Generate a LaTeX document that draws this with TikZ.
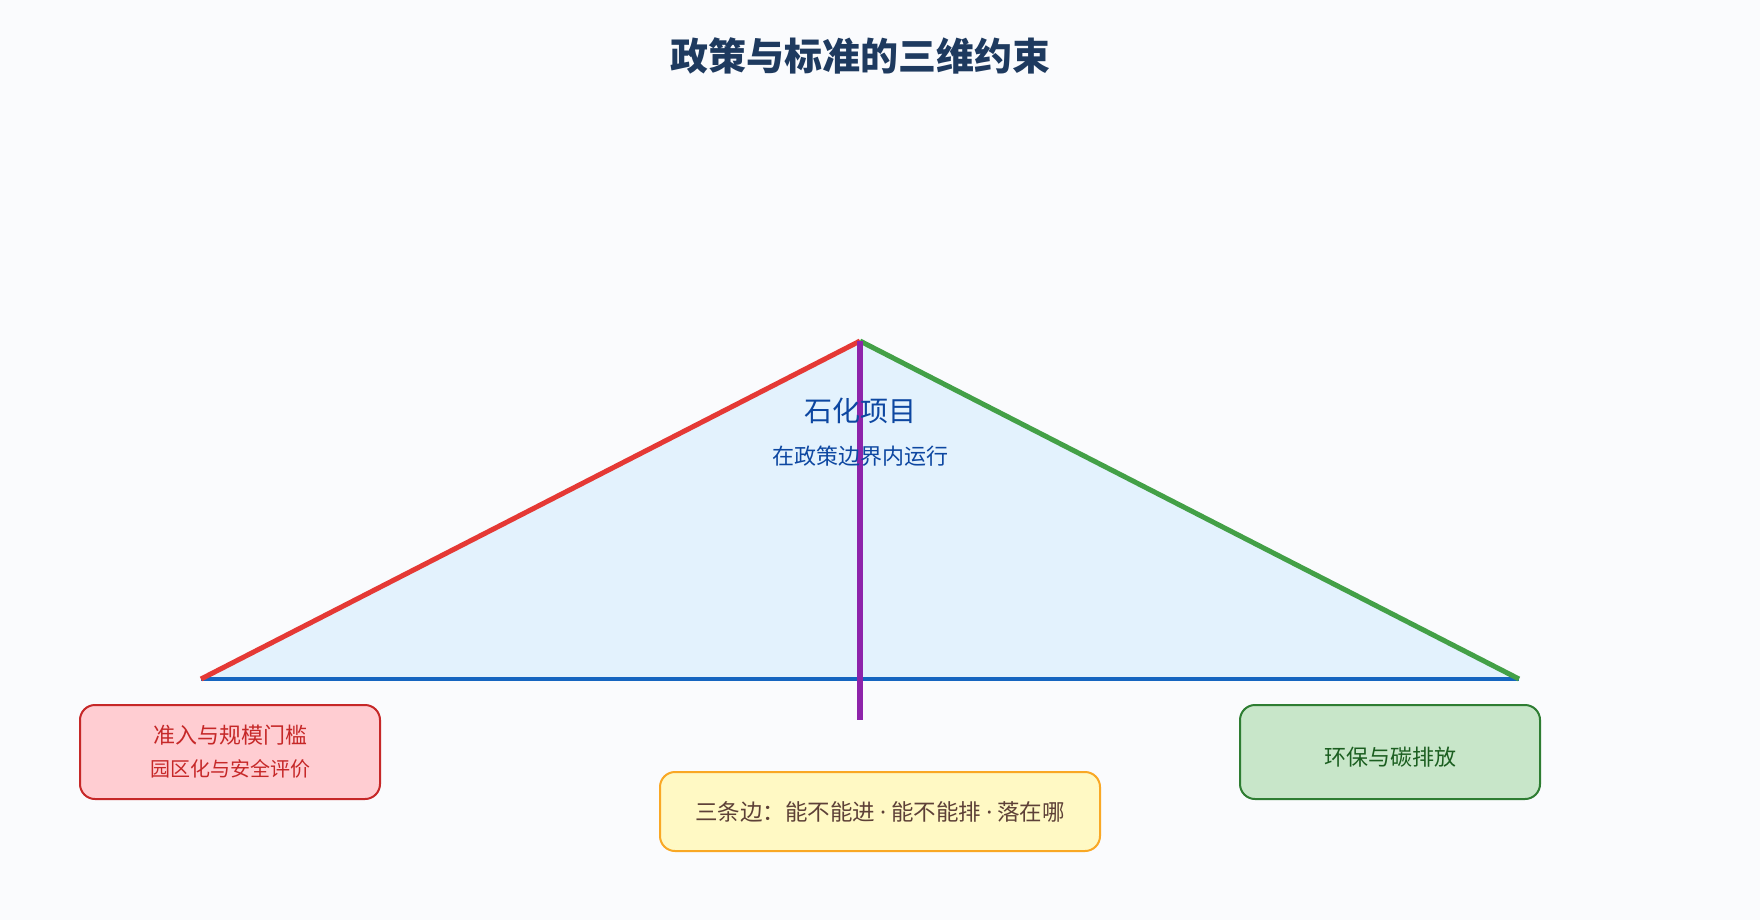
\documentclass[tikz,border=0pt]{standalone}
\usepackage{fontspec}
\setmainfont{Noto Sans CJK SC}
\newfontfamily\dotfont{Noto Sans}
\usetikzlibrary{positioning}
\definecolor{bgpage}{RGB}{250,251,253}
\definecolor{titlecol}{RGB}{30,58,95}
\definecolor{trifill}{RGB}{227,242,253}
\definecolor{entryred}{RGB}{229,57,53}
\definecolor{envgreen}{RGB}{67,160,71}
\definecolor{baseblue}{RGB}{21,101,192}
\definecolor{axispurple}{RGB}{142,36,170}
\definecolor{labelblue}{RGB}{13,71,161}
\definecolor{redfill}{RGB}{255,205,210}
\definecolor{redline}{RGB}{198,40,40}
\definecolor{greenfill}{RGB}{200,230,201}
\definecolor{greenline}{RGB}{46,125,50}
\definecolor{greentext}{RGB}{27,94,32}
\definecolor{yellowfill}{RGB}{255,249,196}
\definecolor{yellowline}{RGB}{249,168,37}
\definecolor{browntext}{RGB}{93,64,55}
\newcommand{\middot}{{\dotfont ·}}

\begin{document}
\begin{tikzpicture}[x=1pt,y=-1pt,
  side/.style={line width=5pt},
  box/.style={draw,rounded corners=15pt,line width=2pt,minimum width=300pt,
    minimum height=94pt,align=center,inner sep=0pt,font=\fontsize{22}{33}\selectfont}]

\fill[bgpage](0,0)rectangle(1760,920);
\useasboundingbox(0,0)rectangle(1760,920);

\node(title)at(860,56){\fontsize{38}{46}\selectfont\bfseries\color{titlecol}政策与标准的三维约束};

\coordinate(top)at(860,341);
\coordinate(bl)at(201,679);
\coordinate(br)at(1519,679);
\coordinate(axis)at(860,720);

\fill[trifill](top)--(bl)--(br)--cycle;

\path(bl)edge[baseblue,line width=3.5pt](br)
	(top)edge[side,entryred](bl)
	(top)edge[side,envgreen](br)
	(top)edge[axispurple,line width=6pt](axis);

\node(project)at(860,411){\fontsize{28}{34}\selectfont\color{labelblue}石化项目};
\node(inside)at(860,456){\fontsize{22}{26}\selectfont\color{labelblue}在政策边界内运行};

\node[box,fill=redfill,draw=redline,text=redline](entry)[below=25pt of bl,xshift=29pt]
	{准入与规模门槛\\{\fontsize{20}{33}\selectfont 园区化与安全评价}};
\node[box,fill=greenfill,draw=greenline,text=greentext,text height=29pt,text depth=2pt](env)
	[below=25pt of br,xshift=-129pt]{环保与碳排放};
\node[box,fill=yellowfill,draw=yellowline,text=browntext,minimum width=440pt,minimum height=79pt,
	font=\fontsize{22.5}{26}\selectfont](edges)[below=51pt of axis,xshift=20pt]
	{三条边：能不能进 \middot{} 能不能排 \middot{} 落在哪};

\end{tikzpicture}
\end{document}
